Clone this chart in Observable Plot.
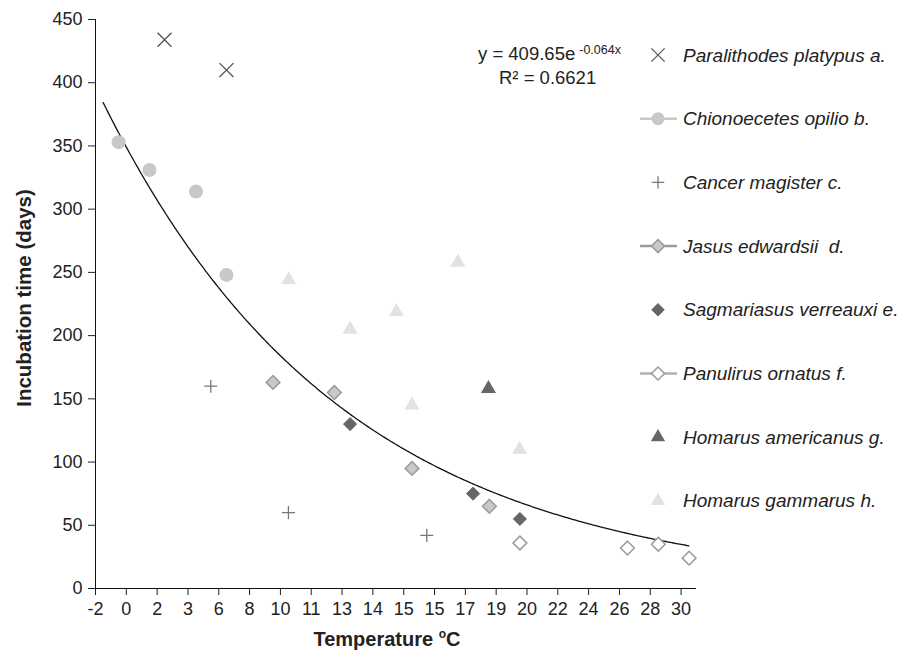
<!DOCTYPE html>
<html>
<head>
<meta charset="utf-8">
<script src="https://cdn.jsdelivr.net/npm/d3@7"></script>
<script src="https://cdn.jsdelivr.net/npm/@observablehq/plot@0.6"></script>
<style>
  html, body { margin: 0; padding: 0; background: #fff; }
  #chart svg { display: block; }
</style>
</head>
<body>
<div id="chart"></div>
<script>
// Category-style x axis (positions are tick indices; labels as printed)
const xLabels = ["-2","0","2","3","6","8","10","11","13","14","15","15","17","19","20","22","24","26","28","30"];
const yTicks = [0,50,100,150,200,250,300,350,400,450];

const speciesNames = [
  "Paralithodes platypus a.",
  "Chionoecetes opilio b.",
  "Cancer magister c.",
  "Jasus edwardsii  d.",
  "Sagmariasus verreauxi e.",
  "Panulirus ornatus f.",
  "Homarus americanus g.",
  "Homarus gammarus h."
];

const paraX = [2.24, 4.25];               const paraY = [434, 410];
const chioX = [0.75, 1.75, 3.26, 4.25];   const chioY = [353, 331, 314, 248];
const cancX = [3.74, 6.26, 10.75];        const cancY = [160, 60, 42];
const jasuX = [5.76, 7.75, 10.27, 12.78]; const jasuY = [163, 155, 95, 65];
const sagmX = [8.26, 12.25, 13.77];       const sagmY = [130, 75, 55];
const panuX = [13.77, 17.26, 18.26, 19.26]; const panuY = [36, 32, 35, 24];
const hamX = [12.75];                     const hamY = [158];
const hgaX = [6.27, 8.26, 9.76, 10.27, 11.76, 13.76]; const hgaY = [244, 205, 219, 145, 258, 110];

// Trendline y = 409.65 e^(-0.064 x), x being the fit's own abscissa (2 per category step)
const fitA = 409.65, fitB = -0.064;
const trendStart = 0.25, trendEnd = 19.25;

const pts = (xs, ys) => xs.map((x, i) => ({x, y: ys[i]}));
const trend = d3.range(trendStart, trendEnd + 1e-9, 0.05).map(t => ({t, v: fitA * Math.exp(fitB * (2 * t + 0.5))}));

const styles = [
  {symbol: "times",    r: 6.4, fill: "none",    stroke: "#555",    strokeWidth: 1.3, line: null},
  {symbol: "circle",   r: 7,   fill: "#c8c8c8", stroke: "none",    strokeWidth: 0,   line: "#c8c8c8"},
  {symbol: "plus",     r: 4.3, fill: "none",    stroke: "#777",    strokeWidth: 1.3, line: null},
  {symbol: "diamond2", r: 6.2, fill: "#c8c8c8", stroke: "#9a9a9a", strokeWidth: 1.5, line: "#9a9a9a"},
  {symbol: "diamond2", r: 5.9, fill: "#666",    stroke: "#666",    strokeWidth: 1,   line: null},
  {symbol: "diamond2", r: 6.2, fill: "#fff",    stroke: "#9a9a9a", strokeWidth: 1.5, line: "#b0b0b0"},
  {symbol: "triangle", r: 5.6, fill: "#666",    stroke: "none",    strokeWidth: 0,   line: null},
  {symbol: "triangle", r: 5.6, fill: "#e1e3e1", stroke: "none",    strokeWidth: 0,   line: null}
];
const series = [pts(paraX, paraY), pts(chioX, chioY), pts(cancX, cancY), pts(jasuX, jasuY),
                pts(sagmX, sagmY), pts(panuX, panuY), pts(hamX, hamY), pts(hgaX, hgaY)];

const chart = Plot.plot({
  width: 910, height: 652,
  marginLeft: 95, marginRight: 214, marginTop: 19, marginBottom: 64,
  x: {domain: [0, 19.5]},
  y: {domain: [0, 450]},
  style: {fontFamily: "'Liberation Sans', Arial, sans-serif", fontSize: "18px", color: "#222", background: "#fff"},
  marks: [
    Plot.axisX({ticks: d3.range(xLabels.length), tickFormat: i => xLabels[i], tickSize: 7, tickPadding: 7, fontSize: 18, label: null}),
    Plot.axisY({ticks: yTicks, tickSize: 7, tickPadding: 6, fontSize: 18, label: null}),
    Plot.ruleX([0], {stroke: "#111"}),
    Plot.ruleY([0], {stroke: "#111"}),
    Plot.line(trend, {x: "t", y: "v", stroke: "#111", strokeWidth: 1.3}),
    ...series.map((data, i) => Plot.dot(data, {
      x: "x", y: "y", symbol: styles[i].symbol, r: styles[i].r,
      fill: styles[i].fill, stroke: styles[i].stroke, strokeWidth: styles[i].strokeWidth
    }))
  ]
});

const svg = d3.select(chart);
const font = "'Liberation Sans', Arial, sans-serif";

// Axis titles
svg.append("text")
  .attr("transform", "translate(23,298) rotate(-90)")
  .attr("text-anchor", "middle").attr("dominant-baseline", "central")
  .attr("font-family", font).attr("font-size", 20.5).attr("font-weight", "bold").attr("fill", "#222")
  .text("Incubation time (days)");
const xt = svg.append("text")
  .attr("x", 387).attr("y", 646)
  .attr("text-anchor", "middle")
  .attr("font-family", font).attr("font-size", 20).attr("font-weight", "bold").attr("fill", "#222");
xt.append("tspan").text("Temperature ");
xt.append("tspan").attr("font-size", 12).attr("dy", -8).text("o");
xt.append("tspan").attr("dy", 8).text("C");

// Equation
const eq = svg.append("text").attr("x", 478).attr("y", 59.5).attr("text-anchor", "start")
  .attr("font-family", font).attr("font-size", 18.5).attr("fill", "#222");
eq.append("tspan").text("y = 409.65e");
eq.append("tspan").attr("font-size", 12.5).attr("dy", -6).attr("dx", 4).text("-0.064x");
svg.append("text").attr("x", 499).attr("y", 83.5).attr("text-anchor", "start")
  .attr("font-family", font).attr("font-size", 18.5).attr("fill", "#222")
  .text("R² = 0.6621");

// Legend
const lg = svg.append("g").attr("text-anchor", "start");
speciesNames.forEach((name, i) => {
  const cy = 55 + i * 63.7;
  const st = styles[i];
  if (st.line) {
    lg.append("line").attr("x1", 640).attr("x2", 677).attr("y1", cy).attr("y2", cy)
      .attr("stroke", st.line).attr("stroke-width", 2.5);
  }
  const symMap = {times: d3.symbolTimes, circle: d3.symbolCircle, plus: d3.symbolPlus, diamond2: d3.symbolDiamond2, triangle: d3.symbolTriangle};
  const rr = st.symbol === "circle" ? 6.5 : st.r * 0.95;
  lg.append("path")
    .attr("d", d3.symbol(symMap[st.symbol], Math.PI * rr * rr)())
    .attr("transform", `translate(658,${cy})`)
    .attr("fill", st.fill).attr("stroke", st.stroke).attr("stroke-width", st.strokeWidth);
  lg.append("text").attr("x", 683).attr("y", cy).attr("text-anchor", "start")
    .attr("dominant-baseline", "central")
    .attr("font-family", font).attr("font-size", 19).attr("font-style", "italic").attr("fill", "#222")
    .text(name);
});

document.getElementById("chart").appendChild(chart);
</script>
</body>
</html>
